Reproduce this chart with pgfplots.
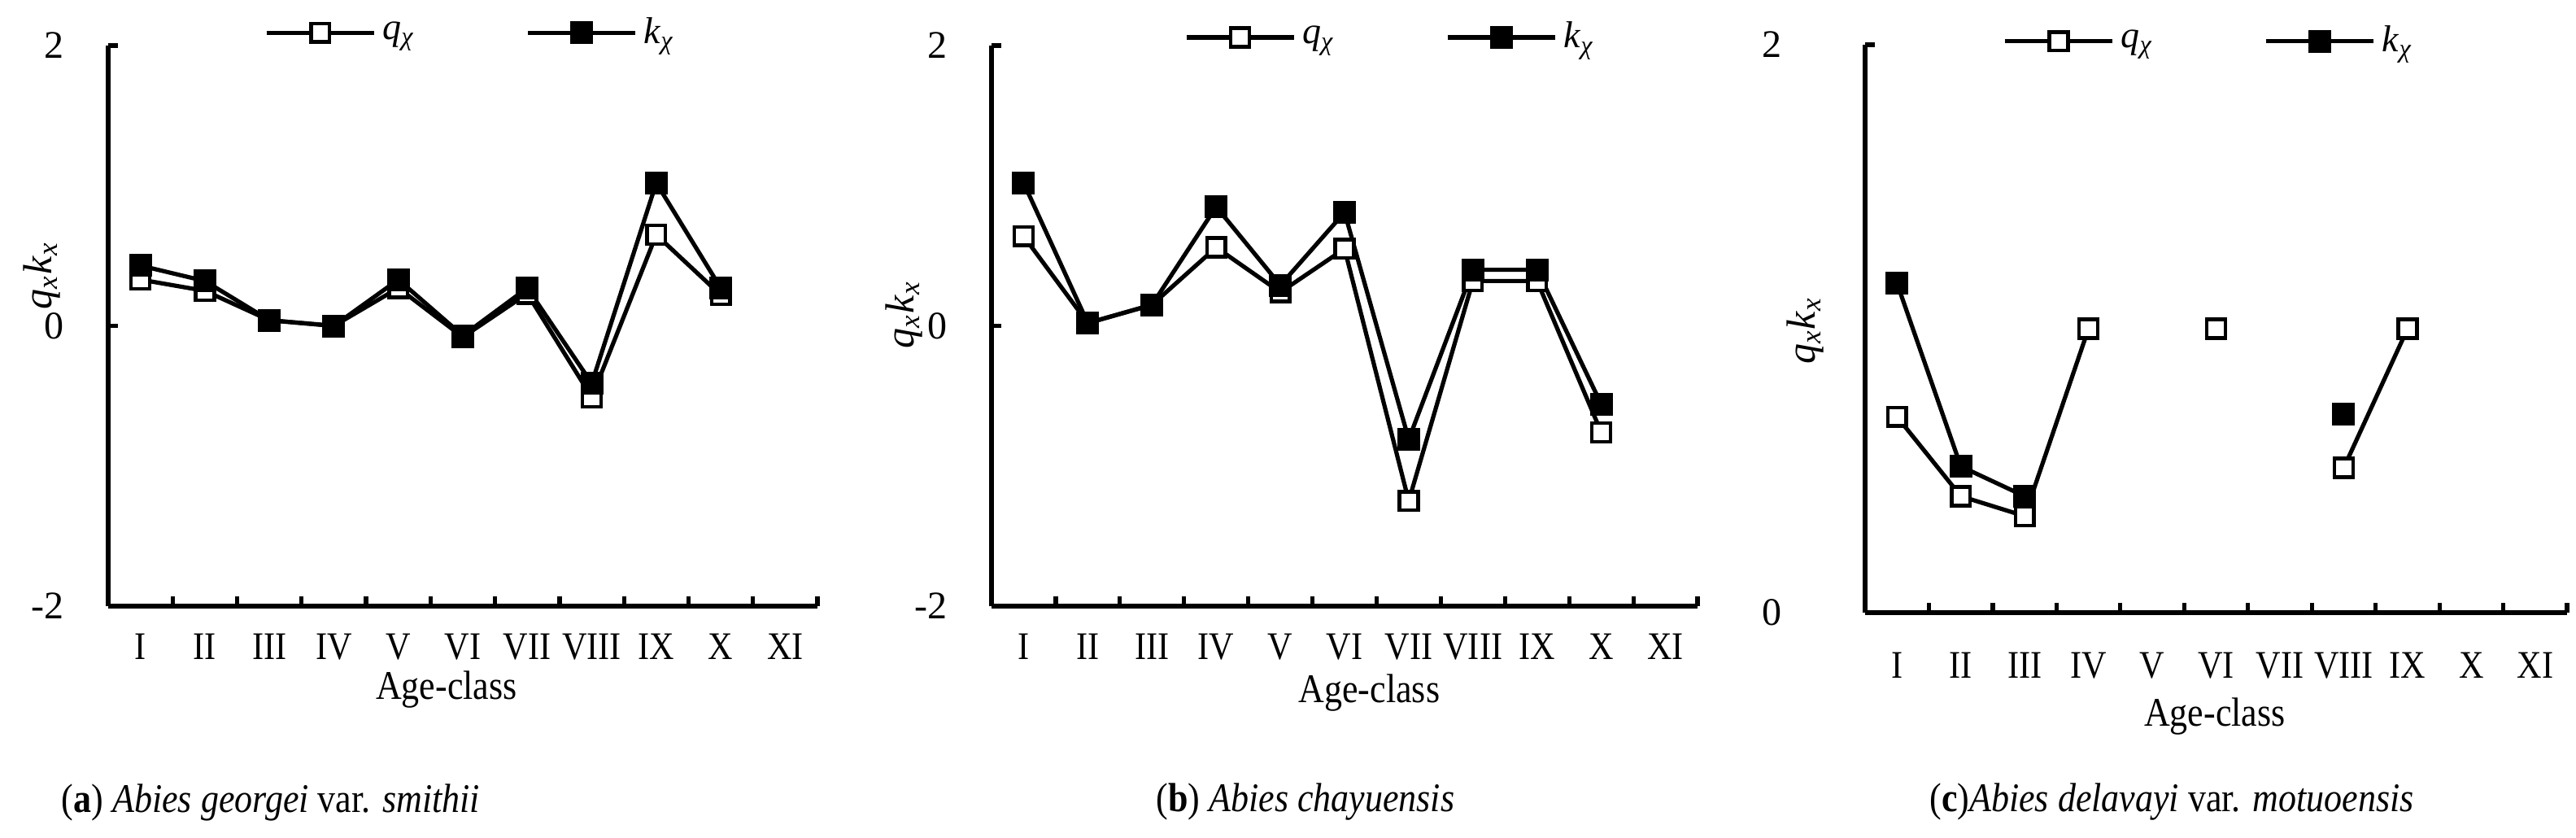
\documentclass[border=0pt]{standalone}
\usepackage{fontspec}
\setmainfont{Liberation Serif}
\newfontfamily\cond{Liberation Serif}[FakeStretch=0.88]
\usepackage{pgfplots}
\pgfplotsset{compat=1.18}

% shared look of the three panels
\pgfplotsset{
  agestyle/.style={
    scale only axis,
    anchor=south west,
    axis lines=left,
    axis line style={-, line width=1.3pt},
    xmin=0.5, xmax=11.5,
    xtick={1,...,11},
    xticklabels={I,II,III,IV,V,VI,VII,VIII,IX,X,XI},
    minor xtick={0.5,1.5,...,11.5},
    tick align=inside,
    major tick length=3pt, minor tick length=3pt,
    tick style={black, line width=1.3pt},
    major x tick style={draw=none},
    xticklabel style={font=\cond\fontsize{12}{14}\selectfont, yshift=-5pt},
    yticklabel style={font=\fontsize{12}{14}\selectfont, xshift=-10pt},
    xlabel={Age-class},
    ylabel={\textit{q}\textsubscript{\textit{x}}\textit{k}\textsubscript{\textit{x}}},
    xlabel style={font=\cond\fontsize{12.5}{14}\selectfont},
    ylabel style={font=\fontsize{12.5}{14}\selectfont},
    clip=false,
    unbounded coords=jump,
    legend columns=2,
    legend style={draw=none, fill=none, anchor=center,
      font=\fontsize{11.5}{13}\selectfont,
      /tikz/every even column/.append style={column sep=32pt}},
    legend image code/.code={\draw[#1, mark repeat=2, mark phase=2]
      plot coordinates {(0pt,0pt) (16.5pt,0pt) (33pt,0pt)};},
  },
  qline/.style={black, line width=1.3pt, mark=square*, mark size=2.85pt,
    mark options={fill=white, line width=1.1pt, solid}},
  kline/.style={black, line width=1.3pt, mark=square*, mark size=2.85pt,
    mark options={fill=black, solid}},
}

\newcommand{\qleg}{\textit{q}\textsubscript{\textit{χ}}}
\newcommand{\kleg}{\textit{k}\textsubscript{\textit{χ}}}

\begin{document}
\begin{tikzpicture}
\path[use as bounding box] (0pt,0pt) rectangle (791.75pt,-257.25pt);

% (a)
\begin{axis}[agestyle,
  at={(33.25pt,-186.25pt)}, width=218pt, height=172.25pt,
  ymin=-2, ymax=2, ytick={-2,0,2}, yticklabels={-2,0,2},
  ylabel style={at={(axis description cs:-0.094,0.59)}, anchor=center},
  xlabel style={at={(axis description cs:0.477,-0.1495)}, anchor=center},
  legend style={at={(axis description cs:0.514,1.023)}},
]
\addplot[qline] coordinates {(1,0.33) (2,0.25) (3,0.04) (4,0.0) (5,0.27) (6,-0.08) (7,0.23) (8,-0.51) (9,0.65) (10,0.22)};
\addplot[kline] coordinates {(1,0.43) (2,0.32) (3,0.04) (4,0.0) (5,0.33) (6,-0.07) (7,0.27) (8,-0.41) (9,1.02) (10,0.27)};
\legend{\qleg,\kleg}
\end{axis}

% (b)
\begin{axis}[agestyle,
  at={(304.75pt,-186.25pt)}, width=217pt, height=172.25pt,
  ymin=-2, ymax=2, ytick={-2,0,2}, yticklabels={-2,0,2},
  ylabel style={at={(axis description cs:-0.124,0.52)}, anchor=center},
  xlabel style={at={(axis description cs:0.535,-0.154)}, anchor=center},
  legend style={at={(axis description cs:0.568,1.0145)}},
]
\addplot[qline] coordinates {(1,0.64) (2,0.02) (3,0.15) (4,0.56) (5,0.24) (6,0.55) (7,-1.25) (8,0.32) (9,0.32) (10,-0.76)};
\addplot[kline] coordinates {(1,1.02) (2,0.02) (3,0.15) (4,0.85) (5,0.29) (6,0.81) (7,-0.81) (8,0.40) (9,0.40) (10,-0.56)};
\legend{\qleg,\kleg}
\end{axis}

% (c)
\begin{axis}[agestyle,
  at={(573.25pt,-188.25pt)}, width=215.75pt, height=174.5pt,
  ymin=0, ymax=2, ytick={0,2}, yticklabels={0,2},
  yticklabel style={xshift=-12pt},
  xticklabel style={yshift=-3.75pt},
  ylabel style={at={(axis description cs:-0.085,0.497)}, anchor=center},
  xlabel style={at={(axis description cs:0.498,-0.183)}, anchor=center},
  legend style={at={(axis description cs:0.493,1.006)}},
]
\addplot[qline] coordinates {(1,0.69) (2,0.41) (3,0.34) (4,1.0) (5,nan) (6,1.0) (7,nan) (8,0.51) (9,1.0)};
\addplot[kline] coordinates {(1,1.16) (2,0.515) (3,0.41) (4,nan) (8,0.70)};
\legend{\qleg,\kleg}
\end{axis}

\node[font=\cond\fontsize{12.5}{14}\selectfont] at (83.25pt,-246.5pt)
  {(\textbf{a}) \textit{Abies georgei} var. \textit{smithii}};
\node[font=\cond\fontsize{12.5}{14}\selectfont] at (401.25pt,-246.5pt)
  {(\textbf{b}) \textit{Abies chayuensis}};
\node[font=\cond\fontsize{12.5}{14}\selectfont] at (667.5pt,-246.5pt)
  {(\textbf{c})\textit{Abies delavayi} var. \textit{motuoensis}};
\end{tikzpicture}
\end{document}
